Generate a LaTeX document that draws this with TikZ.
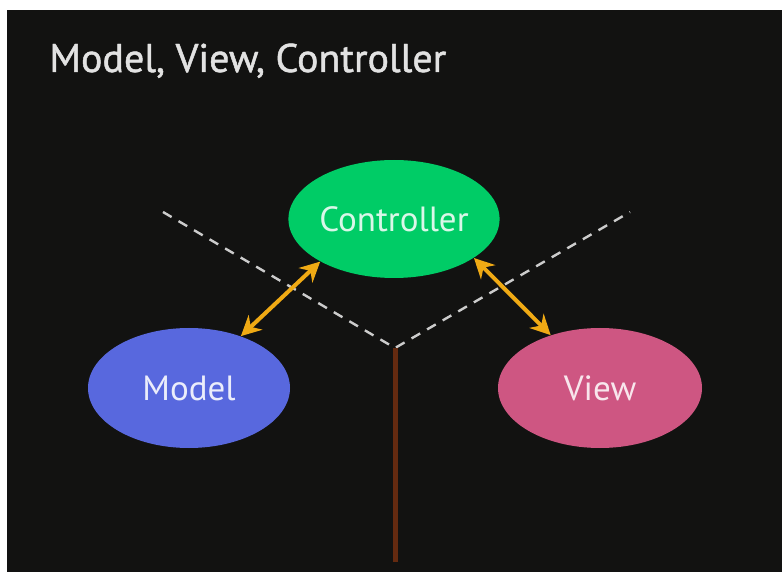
\documentclass[tikz,border=0pt]{standalone}
\usepackage{fontspec}
\setmainfont{PT Sans}
\newfontfamily\slidetitle[FakeBold=1.2]{PT Sans}
\usetikzlibrary{shapes.geometric,arrows.meta}

\definecolor{slide}{RGB}{18,18,17}
\definecolor{ctrlgreen}{RGB}{0,204,102}
\definecolor{modelblue}{RGB}{88,104,222}
\definecolor{viewpink}{RGB}{206,86,130}
\definecolor{linkorange}{RGB}{240,170,20}
\definecolor{postbrown}{RGB}{100,42,16}
\definecolor{titlegray}{RGB}{226,226,226}

\begin{document}
\begin{tikzpicture}[x=0.5pt, y=-0.5pt,
  part/.style={ellipse, inner sep=0pt, font=\fontsize{17.5}{20}\selectfont},
  link/.style={{Stealth[length=10pt,width=10pt]}-{Stealth[length=10pt,width=10pt]},
    line width=2pt, draw=linkorange}]
  \useasboundingbox (0,0) rectangle (782,572);
  \fill[white] (0,0) rectangle (782,572);
  \fill[slide] (7,10) rectangle (782,572);

  \node[anchor=base west, text=titlegray, inner sep=0pt, font=\slidetitle\fontsize{20}{24}\selectfont] (title) at (49,72) {Model, View, Controller};

  % the three parts
  \node[part, fill=ctrlgreen, text=white!85!ctrlgreen, minimum width=99pt, minimum height=59pt] (ctrl) at (394,219) {Controller};
  \node[part, fill=modelblue, text=white!88!modelblue, minimum width=101pt, minimum height=60pt] (model) at (189,388) {Model};
  \node[part, fill=viewpink, text=white!85!viewpink, minimum width=102pt, minimum height=60pt] (view) at (600,388) {View};

  % the dividing lines
  \coordinate (hub) at (395,348);
  \coordinate (upleft) at (163,212);
  \coordinate (upright) at (630,212);
  \coordinate (foot) at (395,562);
  \draw[white!80!black, line width=1.2pt, dash pattern=on 5pt off 4pt] (upleft) -- (hub) -- (upright);
  \draw[postbrown, line width=2.5pt] (hub) -- (foot);

  \draw[link] (ctrl.210) -- (model.45);
  \draw[link] (ctrl.334) -- (view.133);
\end{tikzpicture}
\end{document}
